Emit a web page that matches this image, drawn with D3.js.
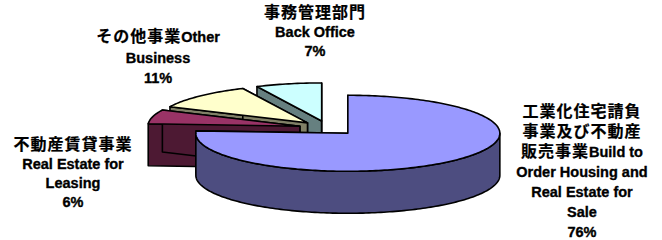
<!DOCTYPE html>
<html>
<head>
<meta charset="utf-8">
<script src="https://cdn.jsdelivr.net/npm/d3@7"></script>
<style>
  body { margin: 0; background: #fff; }
  svg text { font-family: "Liberation Sans", Arial, sans-serif; font-weight: bold; fill: #000; stroke: #000; stroke-width: 0.35px; }
  .cjk { font-family: "Noto Sans CJK JP", sans-serif; stroke-width: 0.2px; }
</style>
</head>
<body>
<svg id="chart" width="662" height="240"></svg>
<script>
// segments, clockwise from 12 o'clock
var segments = ["Build to Order Housing and Real Estate for Sale", "Real Estate for Leasing", "Other Business", "Back Office"];
var shares = [76, 6, 11, 7];
// label text as wrapped in the original
var labelLines = [
  ["工業化住宅請負", "事業及び不動産", "販売事業Build to", "Order Housing and", "Real Estate for", "Sale"],
  ["不動産賃貸事業", "Real Estate for", "Leasing"],
  ["その他事業Other", "Business"],
  ["事務管理部門", "Back Office"]
];
var topColors = ["#9999ff", "#993366", "#ffffcc", "#ccffff"];
var sideColors = ["#4d4d80", "#4d1933", "#808066", "#668080"];

// layout
var cx = 328, cy = 128, rx = 152, ry = 38, depth = 42, explode = 29;
var labelPos = [
  {x: 582, y: 112, lh: 20},
  {x: 73, y: 145, lh: 19},
  {x: 158, y: 37, lh: 20.5},
  {x: 315, y: 13, lh: 19}
];

var svg = d3.select("#chart");

var pie = d3.pie().sort(null).value(function(d) { return d; });
var arcs = pie(shares);

// project a pie angle onto the tilted ellipse
var px = d3.scaleLinear().domain([-1, 1]).range([-rx, rx]);
var py = d3.scaleLinear().domain([-1, 1]).range([-ry, ry]);

function pt(c, a, dy) {
  return [c[0] + px(Math.sin(a)), c[1] - py(Math.cos(a)) + (dy || 0)];
}
function arcPts(c, a0, a1, dy) {
  var n = Math.max(2, Math.ceil((a1 - a0) / 0.02));
  return d3.range(n + 1).map(function(i) { return pt(c, a0 + (a1 - a0) * i / n, dy); });
}
var line = d3.line();

var slices = arcs.map(function(a, i) {
  var mid = (a.startAngle + a.endAngle) / 2;
  var c = [cx + explode * Math.sin(mid), cy - explode * Math.cos(mid) * ry / rx];
  return {i: i, a: a, c: c};
});

function face(g, d, fill) {
  g.append("path")
    .attr("d", d)
    .attr("fill", fill)
    .attr("stroke", "#000").attr("stroke-width", 1.6).attr("stroke-linejoin", "round");
}

// back slices first
slices.slice().sort(function(p, q) { return p.c[1] - q.c[1]; }).forEach(function(s) {
  var g = svg.append("g");
  var c = s.c, a0 = s.a.startAngle, a1 = s.a.endAngle;
  var cb = [c[0], c[1] + depth];

  // radial walls
  [a0, a1].forEach(function(a) {
    face(g, line([c, pt(c, a), pt(c, a, depth), cb]) + "Z", sideColors[s.i]);
  });

  // outer wall, front half only
  var f0 = Math.max(a0, Math.PI / 2), f1 = Math.min(a1, Math.PI * 1.5);
  if (f1 > f0) {
    var topA = arcPts(c, f0, f1, 0);
    var botA = arcPts(c, f0, f1, depth).reverse();
    face(g, line(topA.concat(botA)) + "Z", sideColors[s.i]);
  }

  // top face
  face(g, line([c].concat(arcPts(c, a0, a1, 0))) + "Z", topColors[s.i]);
});

// labels
var cjkRe = /([\u3000-\u9fff\uff00-\uffef]+)/;
labelLines.forEach(function(lines, i) {
  var pos = labelPos[i];
  var all = lines.concat([shares[i] + "%"]);
  all.forEach(function(txt, k) {
    var t = svg.append("text")
      .attr("x", pos.x)
      .attr("y", pos.y + k * pos.lh + 5)
      .attr("text-anchor", "middle");
    txt.split(cjkRe).filter(function(p) { return p.length; }).forEach(function(part) {
      var isCjk = cjkRe.test(part);
      t.append("tspan")
        .attr("class", isCjk ? "cjk" : null)
        .style("font-size", isCjk ? "16px" : "14.5px")
        .style("letter-spacing", isCjk ? "1px" : null)
        .text(part);
    });
  });
});
</script>
</body>
</html>
